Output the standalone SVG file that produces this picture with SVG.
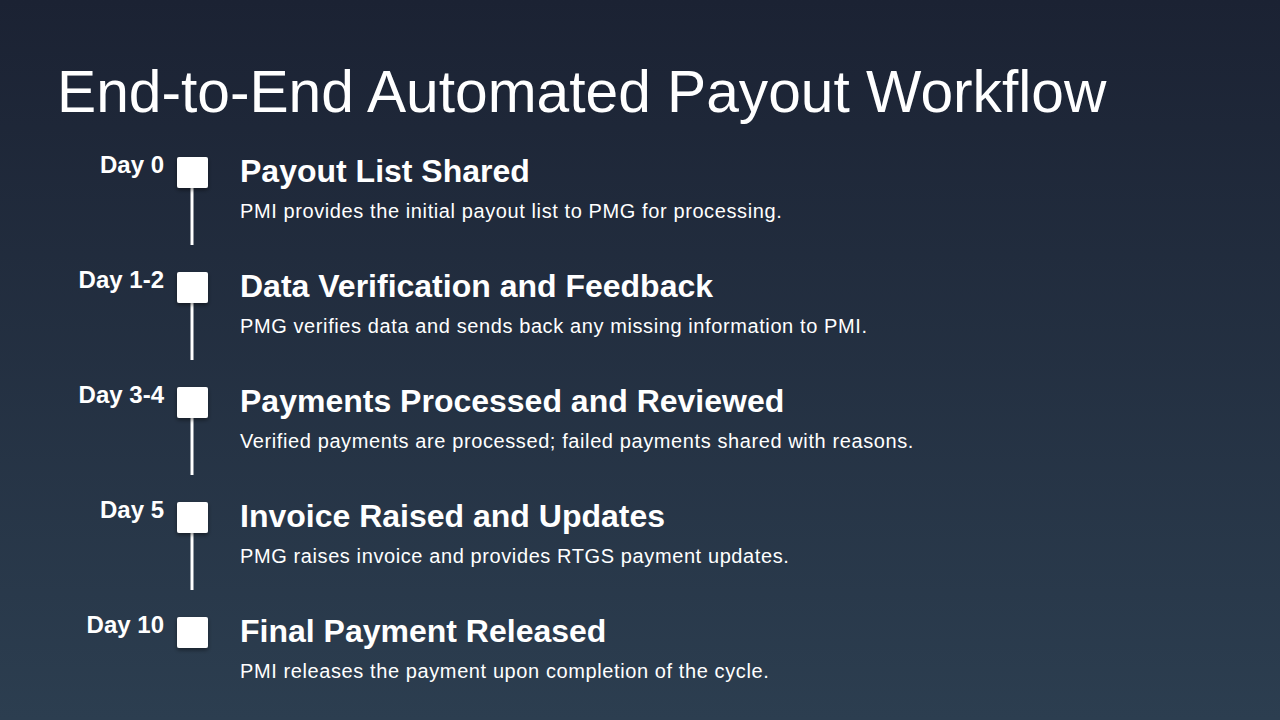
<svg xmlns="http://www.w3.org/2000/svg" width="1280" height="720" viewBox="0 0 1280 720">
<defs>
<linearGradient id="bg" x1="0" y1="0" x2="0" y2="1">
<stop offset="0" stop-color="#1b2233"/>
<stop offset="1" stop-color="#2c3e50"/>
</linearGradient>
<filter id="sh" x="-30%" y="-30%" width="160%" height="160%">
<feDropShadow dx="0" dy="2" stdDeviation="2" flood-color="#000" flood-opacity="0.45"/>
</filter>
<style>
.day{font-family:"Liberation Sans",Arial,sans-serif;font-weight:bold;font-size:24px;fill:#ffffff;text-anchor:end}
.h{font-family:"Liberation Sans",Arial,sans-serif;font-weight:bold;font-size:32px;fill:#ffffff}
.d{font-family:"Liberation Sans",Arial,sans-serif;font-size:20px;letter-spacing:0.6px;fill:#ffffff}
.sq{fill:#ffffff;filter:url(#sh)}
.ln{stroke:#ffffff;stroke-width:3}
</style>
</defs>
<rect width="1280" height="720" fill="url(#bg)"/>
<text x="57" y="112" font-family="Liberation Sans, Arial, sans-serif" font-size="58.7" fill="#ffffff">End-to-End Automated Payout Workflow</text>
<g id="connectors">
<line class="ln" x1="192" y1="188" x2="192" y2="245"/>
<line class="ln" x1="192" y1="303" x2="192" y2="360"/>
<line class="ln" x1="192" y1="418" x2="192" y2="475"/>
<line class="ln" x1="192" y1="533" x2="192" y2="590"/>
</g>
<g id="step0">
<text class="day" x="164" y="173">Day 0</text>
<rect class="sq" x="177" y="157" width="31" height="31" rx="2"/>
<text class="h" x="240" y="182">Payout List Shared</text>
<text class="d" x="240" y="218">PMI provides the initial payout list to PMG for processing.</text>
</g>
<g id="step1">
<text class="day" x="164" y="288">Day 1-2</text>
<rect class="sq" x="177" y="272" width="31" height="31" rx="2"/>
<text class="h" x="240" y="297">Data Verification and Feedback</text>
<text class="d" x="240" y="333">PMG verifies data and sends back any missing information to PMI.</text>
</g>
<g id="step2">
<text class="day" x="164" y="403">Day 3-4</text>
<rect class="sq" x="177" y="387" width="31" height="31" rx="2"/>
<text class="h" x="240" y="412">Payments Processed and Reviewed</text>
<text class="d" x="240" y="448">Verified payments are processed; failed payments shared with reasons.</text>
</g>
<g id="step3">
<text class="day" x="164" y="518">Day 5</text>
<rect class="sq" x="177" y="502" width="31" height="31" rx="2"/>
<text class="h" x="240" y="527">Invoice Raised and Updates</text>
<text class="d" x="240" y="563">PMG raises invoice and provides RTGS payment updates.</text>
</g>
<g id="step4">
<text class="day" x="164" y="633">Day 10</text>
<rect class="sq" x="177" y="617" width="31" height="31" rx="2"/>
<text class="h" x="240" y="642">Final Payment Released</text>
<text class="d" x="240" y="678">PMI releases the payment upon completion of the cycle.</text>
</g>
</svg>
